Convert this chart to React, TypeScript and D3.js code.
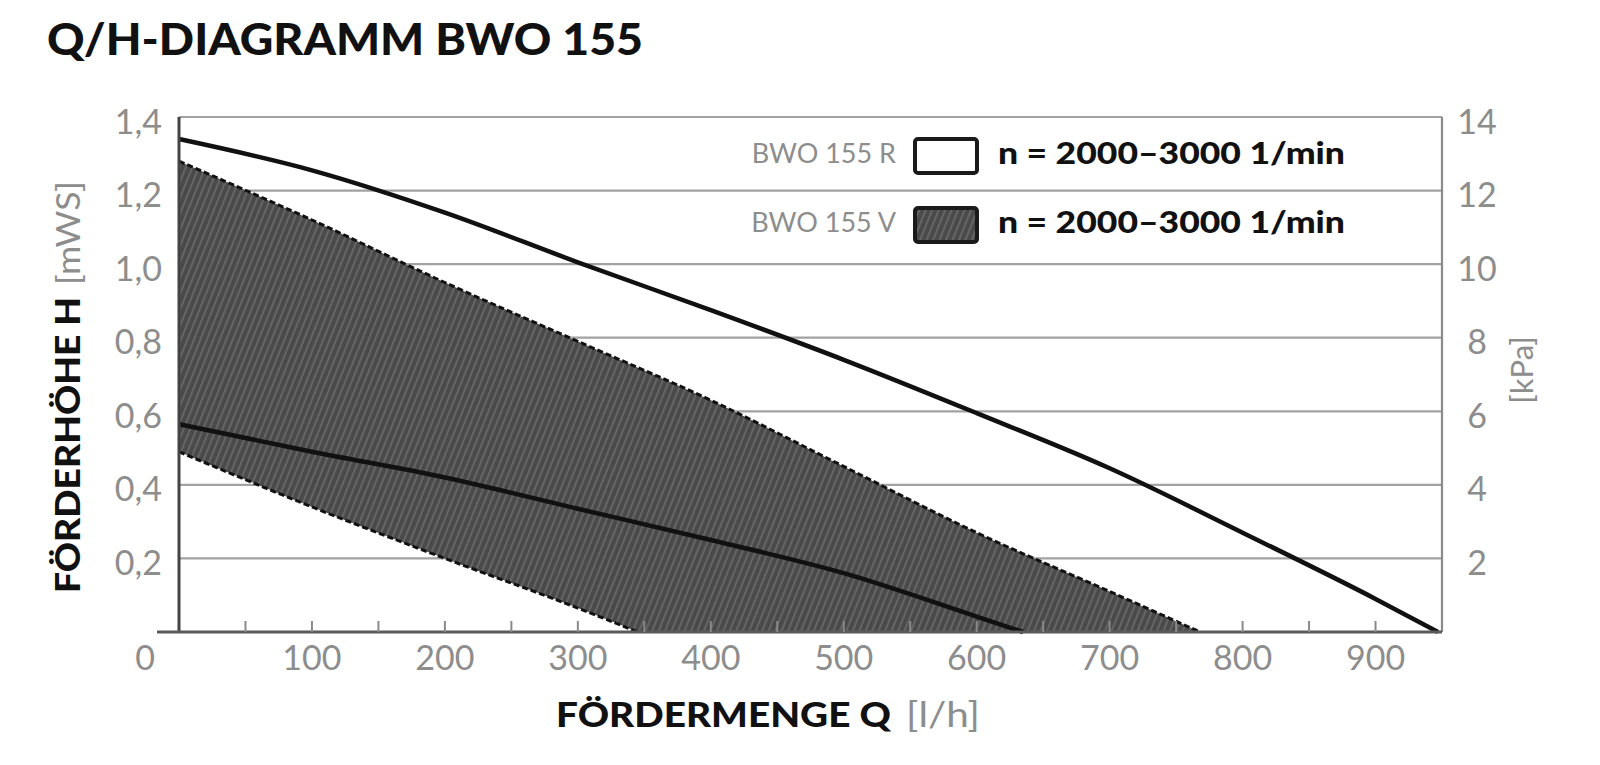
import { useMemo } from "react";
import * as d3 from "d3";

const WIDTH = 1600;
const HEIGHT = 765;
const PLOT = { left: 179, right: 1442, top: 117, bottom: 632 };

// BWO 155 R (upper solid curve)
const rQ = [0, 100, 200, 300, 400, 500, 600, 700, 800, 900, 947];
const rH = [1.34, 1.255, 1.14, 1.005, 0.875, 0.74, 0.595, 0.445, 0.27, 0.09, 0];

// BWO 155 V middle curve
const vQ = [0, 100, 200, 300, 400, 500, 600, 635];
const vH = [0.565, 0.49, 0.42, 0.335, 0.25, 0.16, 0.042, 0];

// BWO 155 V band, upper (3000 1/min) and lower (2000 1/min) limit
const vMaxQ = [0, 100, 200, 300, 400, 500, 600, 700, 768];
const vMaxH = [1.28, 1.12, 0.95, 0.79, 0.63, 0.45, 0.27, 0.11, 0];
const vMinQ = [0, 100, 200, 300, 345];
const vMinH = [0.49, 0.34, 0.2, 0.065, 0];

const hTicks = [0.2, 0.4, 0.6, 0.8, 1.0, 1.2, 1.4];
const kpaTicks = [2, 4, 6, 8, 10, 12, 14];
const qLabels = [100, 200, 300, 400, 500, 600, 700, 800, 900];
const qMinorTicks = d3.range(50, 901, 50);

const legendRows = [
  { name: "BWO 155 R", text: "n = 2000–3000 1/min", filled: false },
  { name: "BWO 155 V", text: "n = 2000–3000 1/min", filled: true },
];

const GRAY_TEXT = "#8d8d8d";
const FONT = "Lato, 'Open Sans', sans-serif";

const zip = (q: number[], h: number[]) => q.map((d, i) => [d, h[i]] as [number, number]);

const App = () => {
  const xScale = useMemo(
    () => d3.scaleLinear().domain([0, 950]).range([PLOT.left, PLOT.right]),
    []
  );
  const yScale = useMemo(
    () => d3.scaleLinear().domain([0, 1.4]).range([PLOT.bottom, PLOT.top]),
    []
  );
  const kpaScale = useMemo(
    () => d3.scaleLinear().domain([0, 14]).range([PLOT.bottom, PLOT.top]),
    []
  );

  const line = d3
    .line<[number, number]>()
    .x((d) => xScale(d[0]))
    .y((d) => yScale(d[1]))
    .curve(d3.curveMonotoneX);

  const upper = zip(vMaxQ, vMaxH);
  const lower = zip(vMinQ, vMinH);
  const upperPath = line(upper) || "";
  const lowerPath = line(lower) || "";
  const lowerRev = (line([...lower].reverse()) || "").replace(/^M/, "L");
  // band: upper limit, along the Q axis, back along the lower limit
  const bandPath = `${upperPath}${lowerRev}Z`;

  return (
    <svg
      width={WIDTH}
      height={HEIGHT}
      style={{ position: "absolute", left: 0, top: 0, background: "white" }}
      fontFamily={FONT}
    >
      <defs>
        <pattern
          id="hatch"
          width={6}
          height={6}
          patternUnits="userSpaceOnUse"
          patternTransform="rotate(22)"
        >
          <rect width={6} height={6} fill="#4a4a4a" />
          <line x1={1} y1={0} x2={1} y2={6} stroke="#6c6c6c" strokeWidth={1.6} />
        </pattern>
      </defs>

      {/* title */}
      <text x={47} y={55} fontSize={44} fontWeight={900} fill="#111" textLength={596} lengthAdjust="spacingAndGlyphs">
        Q/H-DIAGRAMM BWO 155
      </text>

      {/* grid */}
      {hTicks.map((t) => (
        <line
          key={t}
          x1={PLOT.left}
          x2={PLOT.right}
          y1={yScale(t)}
          y2={yScale(t)}
          stroke="#a2a2a2"
          strokeWidth={2.2}
        />
      ))}

      {/* band BWO 155 V */}
      <path d={bandPath} fill="url(#hatch)" stroke="none" />
      <path d={upperPath} fill="none" stroke="#111" strokeWidth={3} strokeDasharray="6 3" />
      <path d={lowerPath} fill="none" stroke="#111" strokeWidth={3} strokeDasharray="6 3" />
      <path d={line(zip(vQ, vH)) || ""} fill="none" stroke="#111" strokeWidth={4.5} />

      {/* BWO 155 R */}
      <path d={line(zip(rQ, rH)) || ""} fill="none" stroke="#111" strokeWidth={4.5} />

      {/* axes frame */}
      <line x1={PLOT.right} x2={PLOT.right} y1={PLOT.top} y2={PLOT.bottom} stroke="#8a8a8a" strokeWidth={2.2} />
      <line x1={PLOT.left} x2={PLOT.left} y1={PLOT.top} y2={PLOT.bottom} stroke="#444" strokeWidth={3} />
      <line x1={PLOT.left - 22} x2={PLOT.right} y1={PLOT.bottom} y2={PLOT.bottom} stroke="#5a5a5a" strokeWidth={3.2} />
      {qMinorTicks.map((q) => (
        <line
          key={q}
          x1={xScale(q)}
          x2={xScale(q)}
          y1={PLOT.bottom}
          y2={PLOT.bottom - 11}
          stroke="#8a8a8a"
          strokeWidth={2}
        />
      ))}

      {/* left tick labels */}
      {hTicks.map((t) => (
        <text
          key={t}
          x={162}
          y={yScale(t) + 8}
          textAnchor="end"
          dominantBaseline="middle"
          fontSize={34}
          fill={GRAY_TEXT}
        >
          {d3.format(".1f")(t).replace(".", ",")}
        </text>
      ))}

      {/* right tick labels */}
      {kpaTicks.map((t) => (
        <text
          key={t}
          x={1477}
          y={kpaScale(t) + 8}
          textAnchor="middle"
          dominantBaseline="middle"
          fontSize={34}
          fill={GRAY_TEXT}
        >
          {t}
        </text>
      ))}

      {/* bottom tick labels */}
      <text x={xScale(0) - 34} y={661} textAnchor="middle" dominantBaseline="middle" fontSize={34} fill={GRAY_TEXT}>
        0
      </text>
      {qLabels.map((q) => (
        <text
          key={q}
          x={xScale(q)}
          y={661}
          textAnchor="middle"
          dominantBaseline="middle"
          fontSize={34}
          fill={GRAY_TEXT}
        >
          {q}
        </text>
      ))}

      {/* axis titles */}
      <text x={556} y={727} fontSize={34} fill="#111">
        <tspan fontWeight={900} textLength={335} lengthAdjust="spacingAndGlyphs">FÖRDERMENGE Q</tspan>
      </text>
      <text x={906} y={727} fontSize={34} fill={GRAY_TEXT} textLength={74} lengthAdjust="spacingAndGlyphs">
        [l/h]
      </text>
      <text transform="translate(80,593) rotate(-90)" fontSize={35} fontWeight={900} fill="#111" textLength={296} lengthAdjust="spacingAndGlyphs">
        FÖRDERHÖHE H
      </text>
      <text transform="translate(80,285) rotate(-90)" fontSize={33} fill={GRAY_TEXT} textLength={104} lengthAdjust="spacingAndGlyphs">
        [mWS]
      </text>
      <text
        transform="translate(1525,370) rotate(-90)"
        textAnchor="middle"
        dominantBaseline="middle"
        fontSize={31}
        fill={GRAY_TEXT}
      >
        [kPa]
      </text>

      {/* legend */}
      {legendRows.map((r, i) => {
        const cy = 156 + i * 69;
        return (
          <g key={r.name}>
            <text x={896} y={cy} textAnchor="end" dominantBaseline="middle" fontSize={27} fill={GRAY_TEXT}>
              {r.name}
            </text>
            <rect
              x={915}
              y={cy - 17}
              width={62}
              height={34}
              rx={3}
              fill={r.filled ? "url(#hatch)" : "white"}
              stroke="#1a1a1a"
              strokeWidth={4}
            />
            <text
              x={998}
              y={cy}
              dominantBaseline="middle"
              fontSize={30}
              fontWeight={900}
              fill="#111"
              textLength={347}
              lengthAdjust="spacingAndGlyphs"
            >
              {r.text}
            </text>
          </g>
        );
      })}
    </svg>
  );
};

export default App;
